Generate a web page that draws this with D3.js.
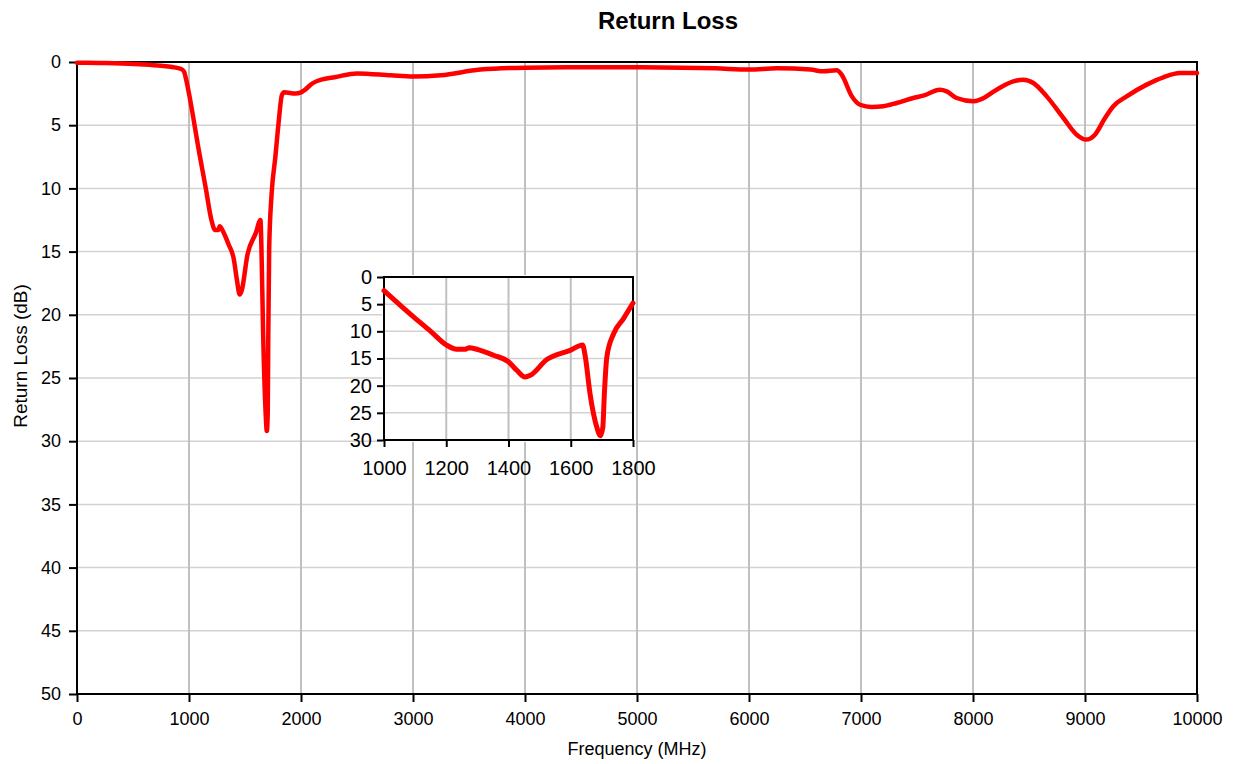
<!DOCTYPE html>
<html>
<head>
<meta charset="utf-8">
<script src="https://cdn.jsdelivr.net/npm/d3@7"></script>
<style>
  body { margin: 0; background: #fff; }
  svg { display: block; font-family: "Liberation Sans", Arial, sans-serif; }
</style>
</head>
<body>
<div id="chart"></div>
<script>
// return loss sweep
const freq = [0, 200, 400, 600, 750, 850, 930, 955, 975, 1000,
  1094, 1150, 1200, 1234, 1261, 1274, 1298, 1352, 1400, 1427,
  1453, 1470, 1523, 1598, 1638, 1646, 1662, 1684, 1695, 1703,
  1708, 1716, 1738, 1770, 1800, 1830, 1850, 1950, 2000, 2035,
  2100, 2200, 2300, 2500, 2800, 3000, 3250, 3600, 4000, 4500,
  4900, 5400, 5700, 6000, 6250, 6550, 6664, 6783, 6827, 6917,
  6991, 7095, 7199, 7318, 7467, 7556, 7705, 7765, 7854, 8003,
  8063, 8211, 8360, 8449, 8539, 8658, 8807, 8926, 9009, 9089,
  9179, 9253, 9372, 9551, 9699, 9848, 10000];
const returnLoss = [0.05, 0.08, 0.12, 0.2, 0.3, 0.4, 0.55, 0.75, 1.4, 2.5,
  7.3, 10.0, 12.5, 13.3, 13.3, 13.0, 13.3, 14.4, 15.6, 17.2,
  18.4, 18.1, 15.2, 13.5, 12.5, 14.4, 21.5, 27.7, 29.2, 27.7,
  21.5, 14.7, 10.4, 7.6, 4.8, 2.6, 2.4, 2.5, 2.4, 2.2,
  1.7, 1.35, 1.2, 0.9, 1.05, 1.15, 1.05, 0.6, 0.45, 0.42,
  0.42, 0.45, 0.5, 0.6, 0.5, 0.6, 0.74, 0.66, 1.0, 2.7,
  3.38, 3.56, 3.5, 3.24, 2.85, 2.66, 2.19, 2.32, 2.85, 3.11,
  2.98, 2.19, 1.53, 1.40, 1.66, 2.72, 4.43, 5.75, 6.14, 5.75,
  4.43, 3.5, 2.72, 1.79, 1.21, 0.87, 0.87];

const xTicks = [0, 1000, 2000, 3000, 4000, 5000, 6000, 7000, 8000, 9000, 10000];
const yTicks = [0, 5, 10, 15, 20, 25, 30, 35, 40, 45, 50];
const insetXTicks = [1000, 1200, 1400, 1600, 1800];
const insetYTicks = [0, 5, 10, 15, 20, 25, 30];

const width = 1233;
const height = 764;
const margin = {top: 62, left: 77, bottom: 70, right: 36};

const data = freq.map((f, i) => ({f: f, v: returnLoss[i]}));

const svg = d3.select('#chart').append('svg')
  .attr('width', width).attr('height', height);

const x = d3.scaleLinear()
  .domain([0, 10000])
  .range([margin.left, width - margin.right]);

const y = d3.scaleLinear()
  .domain([0, 50])
  .range([margin.top, height - margin.bottom]);

// grid
svg.append('g').selectAll('line').data(yTicks.slice(1, -1)).enter().append('line')
  .attr('x1', x(0)).attr('x2', x(10000))
  .attr('y1', d => y(d)).attr('y2', d => y(d))
  .attr('stroke', '#d2d2d2').attr('stroke-width', 1.5);
svg.append('g').selectAll('line').data(xTicks.slice(1, -1)).enter().append('line')
  .attr('x1', d => x(d)).attr('x2', d => x(d))
  .attr('y1', y(0)).attr('y2', y(50))
  .attr('stroke', '#c0c0c0').attr('stroke-width', 2);

const xAxis = g => g
  .attr('transform', `translate(0, ${y(50)})`)
  .call(d3.axisBottom(x).tickValues(xTicks).tickFormat(d3.format('d')).tickSize(8).tickPadding(10))
  .call(g => g.select('.domain').remove())
  .call(g => g.selectAll('line').attr('stroke', '#000').attr('stroke-width', 2))
  .call(g => g.selectAll('text').attr('font-size', 18).attr('fill', '#000'));

const yAxis = g => g
  .attr('transform', `translate(${x(0)}, 0)`)
  .call(d3.axisLeft(y).tickValues(yTicks).tickSize(8).tickPadding(8))
  .call(g => g.select('.domain').remove())
  .call(g => g.selectAll('line').attr('stroke', '#000').attr('stroke-width', 2))
  .call(g => g.selectAll('text').attr('font-size', 18).attr('fill', '#000'));

svg.append('g').call(xAxis);
svg.append('g').call(yAxis);

svg.append('rect')
  .attr('x', x(0)).attr('y', y(0))
  .attr('width', x(10000) - x(0)).attr('height', y(50) - y(0))
  .attr('fill', 'none').attr('stroke', '#000').attr('stroke-width', 2);

const line = d3.line()
  .x(d => x(d.f))
  .y(d => y(d.v))
  .curve(d3.curveMonotoneX);

svg.append('path')
  .datum(data)
  .attr('d', line)
  .attr('fill', 'none')
  .attr('stroke', '#ff0000')
  .attr('stroke-width', 4.5)
  .attr('stroke-linejoin', 'round')
  .attr('stroke-linecap', 'round');

// titles
svg.append('text')
  .attr('x', 668).attr('y', 29)
  .attr('text-anchor', 'middle')
  .attr('font-size', 24).attr('font-weight', 'bold')
  .text('Return Loss');

svg.append('text')
  .attr('x', (x(0) + x(10000)) / 2).attr('y', 755)
  .attr('text-anchor', 'middle')
  .attr('font-size', 18)
  .text('Frequency (MHz)');

svg.append('text')
  .attr('transform', 'translate(27, 356) rotate(-90)')
  .attr('text-anchor', 'middle')
  .attr('font-size', 19)
  .text('Return Loss (dB)');

// inset zoom 1000-1800 MHz
const ix = d3.scaleLinear().domain([1000, 1800]).range([384, 633]);
const iy = d3.scaleLinear().domain([0, 30]).range([277, 440]);
const inset = svg.append('g');

inset.append('rect')
  .attr('x', ix(1000) - 2).attr('y', iy(0) - 2)
  .attr('width', ix(1800) - ix(1000) + 5).attr('height', iy(30) - iy(0) + 4)
  .attr('fill', '#fff');

inset.append('g').selectAll('line').data(insetYTicks.slice(1, -1)).enter().append('line')
  .attr('x1', ix(1000)).attr('x2', ix(1800))
  .attr('y1', d => iy(d)).attr('y2', d => iy(d))
  .attr('stroke', '#d2d2d2').attr('stroke-width', 1.5);
inset.append('g').selectAll('line').data(insetXTicks.slice(1, -1)).enter().append('line')
  .attr('x1', d => ix(d)).attr('x2', d => ix(d))
  .attr('y1', iy(0)).attr('y2', iy(30))
  .attr('stroke', '#c0c0c0').attr('stroke-width', 2);

inset.append('g')
  .attr('transform', `translate(0, ${iy(30)})`)
  .call(d3.axisBottom(ix).tickValues(insetXTicks).tickFormat(d3.format('d')).tickSize(7).tickPadding(14))
  .call(g => g.select('.domain').remove())
  .call(g => g.selectAll('line').attr('stroke', '#000').attr('stroke-width', 2))
  .call(g => g.selectAll('text').attr('font-size', 20).attr('fill', '#000'));

inset.append('g')
  .attr('transform', `translate(${ix(1000)}, 0)`)
  .call(d3.axisLeft(iy).tickValues(insetYTicks).tickSize(7).tickPadding(5))
  .call(g => g.select('.domain').remove())
  .call(g => g.selectAll('line').attr('stroke', '#000').attr('stroke-width', 2))
  .call(g => g.selectAll('text').attr('font-size', 20).attr('fill', '#000'));

inset.append('rect')
  .attr('x', ix(1000)).attr('y', iy(0))
  .attr('width', ix(1800) - ix(1000)).attr('height', iy(30) - iy(0))
  .attr('fill', 'none').attr('stroke', '#000').attr('stroke-width', 2);

const iline = d3.line()
  .x(d => ix(d.f))
  .y(d => iy(d.v))
  .curve(d3.curveMonotoneX);

inset.append('path')
  .datum(data.filter(d => d.f >= 1000 && d.f <= 1800))
  .attr('d', iline)
  .attr('fill', 'none')
  .attr('stroke', '#ff0000')
  .attr('stroke-width', 5)
  .attr('stroke-linejoin', 'round')
  .attr('stroke-linecap', 'round');
</script>
</body>
</html>
